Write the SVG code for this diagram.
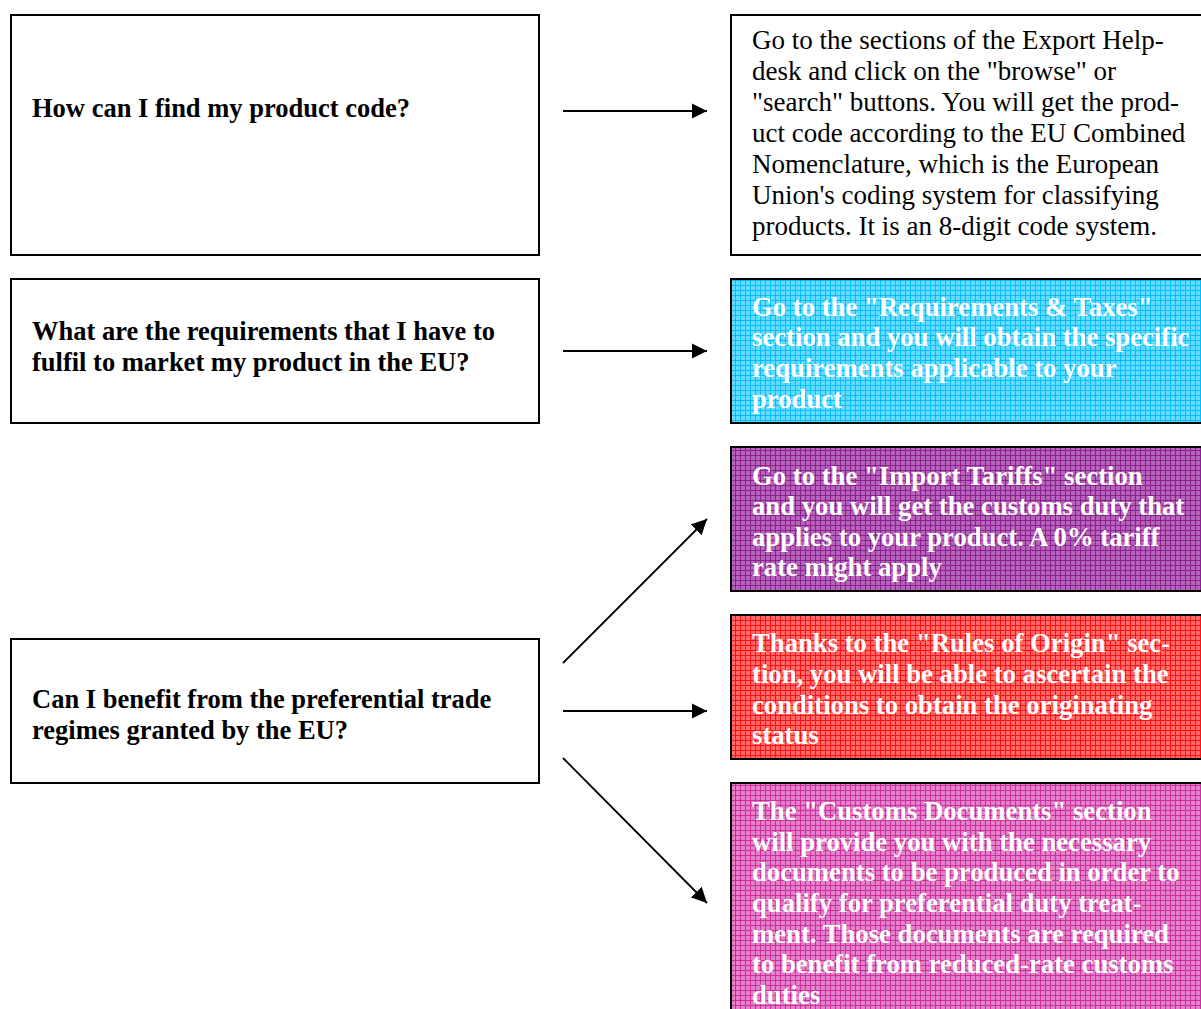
<svg xmlns="http://www.w3.org/2000/svg" width="1201" height="1009" viewBox="0 0 1201 1009">
<style>
.box{fill:#fff;stroke:#000;stroke-width:2}
.cbox{stroke:#000;stroke-width:2}
.q{font-family:"Liberation Serif","Times New Roman",serif;font-size:26.5px;font-weight:bold;fill:#000}
.a{font-family:"Liberation Serif","Times New Roman",serif;font-size:27px;fill:#000}
.w{font-family:"Liberation Serif","Times New Roman",serif;font-size:26.7px;font-weight:bold;fill:#fff}
.conn line{stroke:#000;stroke-width:1.8;fill:none}
</style>
<defs>
<marker id="ah" viewBox="0 0 10 10" refX="10" refY="5" markerWidth="8.5" markerHeight="8.5" markerUnits="strokeWidth" orient="auto">
<path d="M0,0 L10,5 L0,10 z" fill="#000"/>
</marker>
<pattern id="pc" width="5" height="5" patternUnits="userSpaceOnUse"><rect width="5" height="5" fill="#66dbff"/><rect width="5" height="1" fill="#00bfff"/><rect width="1" height="5" fill="#00bfff"/></pattern>
<pattern id="pp" width="5" height="5" patternUnits="userSpaceOnUse"><rect width="5" height="5" fill="#b565b8"/><rect width="5" height="1" fill="#8e1f93"/><rect width="1" height="5" fill="#8e1f93"/></pattern>
<pattern id="pr" width="5" height="5" patternUnits="userSpaceOnUse"><rect width="5" height="5" fill="#ff6a6a"/><rect width="5" height="1" fill="#ff1010"/><rect width="1" height="5" fill="#ff1010"/></pattern>
<pattern id="pk" width="5" height="5" patternUnits="userSpaceOnUse"><rect width="5" height="5" fill="#e282c8"/><rect width="5" height="1" fill="#cc2e9e"/><rect width="1" height="5" fill="#cc2e9e"/></pattern>
</defs>
<rect width="1201" height="1009" fill="#fff"/>

<g id="q1"><rect class="box" x="11" y="15" width="528" height="240"/>
<text class="q" x="32" y="117">How can I find my product code?</text></g>

<g id="a1"><rect class="box" x="731" y="15" width="480" height="240"/>
<text class="a"><tspan x="752" y="49">Go to the sections of the Export Help-</tspan><tspan x="752" y="80">desk and click on the "browse" or</tspan><tspan x="752" y="111">"search" buttons. You will get the prod-</tspan><tspan x="752" y="142">uct code according to the EU Combined</tspan><tspan x="752" y="173">Nomenclature, which is the European</tspan><tspan x="752" y="204">Union's coding system for classifying</tspan><tspan x="752" y="235">products. It is an 8-digit code system.</tspan></text></g>

<g id="q2"><rect class="box" x="11" y="279" width="528" height="144"/>
<text class="q"><tspan x="32" y="340">What are the requirements that I have to</tspan><tspan x="32" y="371">fulfil to market my product in the EU?</tspan></text></g>

<g id="a2"><rect class="cbox" x="731" y="279" width="480" height="144" fill="url(#pc)"/>
<text class="w"><tspan x="752" y="316">Go to the "Requirements &amp; Taxes"</tspan><tspan x="752" y="346">section and you will obtain the specific</tspan><tspan x="752" y="377">requirements applicable to your</tspan><tspan x="752" y="408">product</tspan></text></g>

<g id="a3"><rect class="cbox" x="731" y="447" width="480" height="144" fill="url(#pp)"/>
<text class="w"><tspan x="752" y="485">Go to the "Import Tariffs" section</tspan><tspan x="752" y="515">and you will get the customs duty that</tspan><tspan x="752" y="546">applies to your product. A 0% tariff</tspan><tspan x="752" y="576">rate might apply</tspan></text></g>

<g id="a4"><rect class="cbox" x="731" y="615" width="480" height="144" fill="url(#pr)"/>
<text class="w"><tspan x="752" y="652">Thanks to the "Rules of Origin" sec-</tspan><tspan x="752" y="683">tion, you will be able to ascertain the</tspan><tspan x="752" y="714">conditions to obtain the originating</tspan><tspan x="752" y="744">status</tspan></text></g>

<g id="q3"><rect class="box" x="11" y="639" width="528" height="144"/>
<text class="q"><tspan x="32" y="708">Can I benefit from the preferential trade</tspan><tspan x="32" y="739">regimes granted by the EU?</tspan></text></g>

<g id="a5"><rect class="cbox" x="731" y="783" width="480" height="240" fill="url(#pk)"/>
<text class="w"><tspan x="752" y="820">The "Customs Documents" section</tspan><tspan x="752" y="851">will provide you with the necessary</tspan><tspan x="752" y="881">documents to be produced in order to</tspan><tspan x="752" y="912">qualify for preferential duty treat-</tspan><tspan x="752" y="943">ment. Those documents are required</tspan><tspan x="752" y="973">to benefit from reduced-rate customs</tspan><tspan x="752" y="1004">duties</tspan></text></g>

<g id="connectors" class="conn">
<line x1="563" y1="111" x2="707" y2="111" marker-end="url(#ah)"/>
<line x1="563" y1="351" x2="707" y2="351" marker-end="url(#ah)"/>
<line x1="563" y1="663" x2="707" y2="519" marker-end="url(#ah)"/>
<line x1="563" y1="711" x2="707" y2="711" marker-end="url(#ah)"/>
<line x1="563" y1="758" x2="707" y2="903" marker-end="url(#ah)"/>
</g>
</svg>
